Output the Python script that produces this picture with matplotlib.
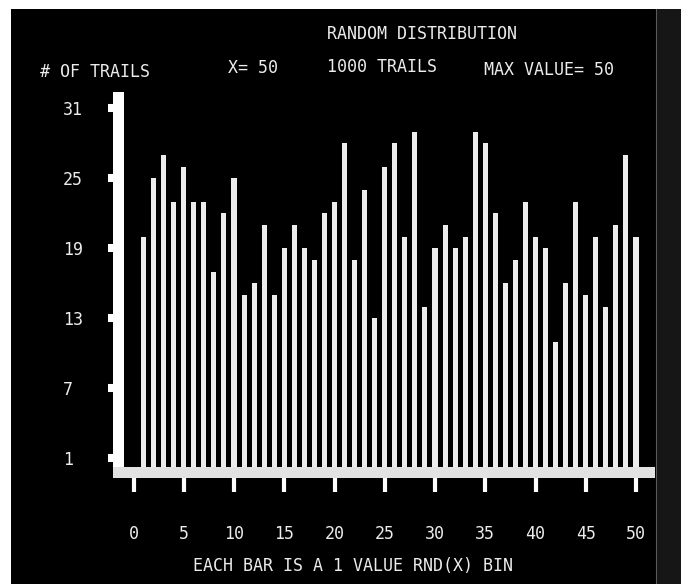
import matplotlib
matplotlib.use("Agg")
import matplotlib.pyplot as plt
from matplotlib.patches import Rectangle

# Counts per RND(X) bin, X = 50, 1000 trials
bins = list(range(1, 51))
counts = [20, 25, 27, 23, 26, 23, 23, 17, 22, 25,
          15, 16, 21, 15, 19, 21, 19, 18, 22, 23,
          28, 18, 24, 13, 26, 28, 20, 29, 14, 19,
          21, 19, 20, 29, 28, 22, 16, 18, 23, 20,
          19, 11, 16, 23, 15, 20, 14, 21, 27, 20]

y_ticks = [1, 7, 13, 19, 25, 31]
x_ticks = [0, 5, 10, 15, 20, 25, 30, 35, 40, 45, 50]
x_ticklabels = [str(t) for t in x_ticks]

title = "RANDOM DISTRIBUTION"
y_title = "# OF TRAILS"
info_x = "X= 50"
info_trials = "1000 TRAILS"
info_max = "MAX VALUE= 50"
x_title = "EACH BAR IS A 1 VALUE RND(X) BIN"

W, H = 685, 584
DPI = 100
FG = "#ececec"
MONO = "DejaVu Sans Mono"

fig = plt.figure(figsize=(W / DPI, H / DPI), dpi=DPI, facecolor="white")

# screen backdrop in pixel coordinates
bg = fig.add_axes([0, 0, 1, 1])
bg.set_xlim(0, W)
bg.set_ylim(H, 0)
bg.axis("off")
bg.add_patch(Rectangle((11, 9), 645, H - 9, color="black", lw=0))
bg.add_patch(Rectangle((656, 9), 25, H - 9, color="#161616", lw=0))
bg.plot([656, 656], [9, H], color="#5a5a5a", lw=0.8)


def px_text(x, y, s, **kw):
    bg.text(x, y, s, color=FG, fontsize=12, family=MONO,
            va="center", ha="left", **kw)


px_text(327, 34, title)
px_text(40, 72, y_title)
px_text(228, 68, info_x)
px_text(327, 67, info_trials)
px_text(484, 70, info_max)
px_text(193, 566, x_title)

# chart area: left 113, right 655, top 92, bottom 478 (pixels)
left, right, top, bottom = 113, 655, 92, 478
ax = fig.add_axes([left / W, 1 - bottom / H, (right - left) / W, (bottom - top) / H])
ax.set_facecolor("none")
ax.set_xlim(-2.04, 51.89)
ax.set_ylim(-0.68, 32.40)
for sp in ax.spines.values():
    sp.set_visible(False)

ax.bar(bins, counts, width=0.5, color=FG, linewidth=0, zorder=2)

# thick vertical axis bar and baseline band
ax.add_patch(Rectangle((0, 0), 11 / (right - left), 1, transform=ax.transAxes,
                       color="white", lw=0, zorder=3))
ax.add_patch(Rectangle((0, 0), 1, 11 / (bottom - top), transform=ax.transAxes,
                       color="#e2e2e2", lw=0, zorder=3))

ax.set_yticks(y_ticks)
ax.set_yticklabels([str(t) for t in y_ticks])
ax.tick_params(axis="y", direction="out", length=3.6, width=5.8, color="white",
               labelcolor=FG, labelsize=12, pad=32.4)
for lab in ax.get_yticklabels():
    lab.set_ha("left")
    lab.set_family(MONO)

ax.set_xticks(x_ticks)
ax.set_xticklabels(x_ticklabels)
ax.tick_params(axis="x", direction="out", length=10, width=3, color="white",
               labelcolor=FG, labelsize=12, pad=23.5)
for lab in ax.get_xticklabels():
    lab.set_family(MONO)

fig.savefig("out.png", dpi=DPI, facecolor="white")
